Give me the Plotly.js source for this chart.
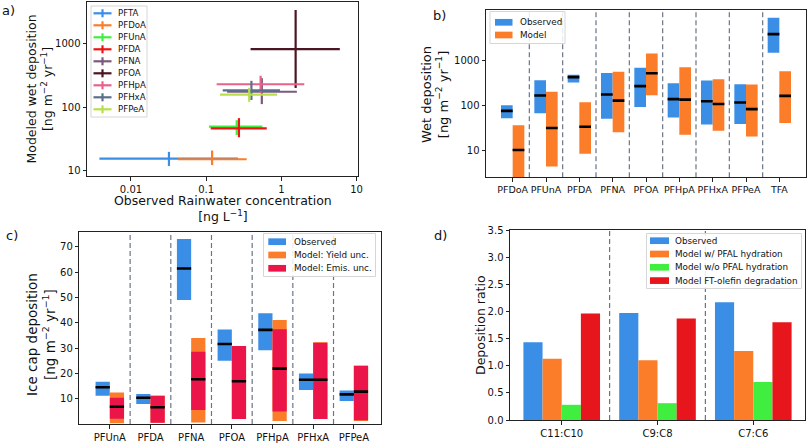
<!DOCTYPE html>
<html><head><meta charset="utf-8">
<script src="https://cdn.plot.ly/plotly-3.0.1.min.js"></script>
<style>html,body{margin:0;padding:0;background:#fff;} #chart{width:808px;height:443px;}</style>
</head><body><div id="chart"></div>
<script>
// ---------- Panel a data ----------
const aSpecies = ['PFTA','PFDoA','PFUnA','PFDA','PFNA','PFOA','PFHpA','PFHxA','PFPeA'];
const aObsMid  = [0.032, 0.12, 0.255, 0.273, 0.55, 1.55, 0.53, 0.40, 0.374];
const aObsLow  = [0.0038, 0.042, 0.109, 0.115, 0.19, 0.39, 0.138, 0.166, 0.153];
const aObsHigh = [0.265, 0.346, 0.56, 0.64, 1.61, 6.0, 2.02, 0.96, 0.88];
const aModMid  = [15.6, 15.3, 50, 47, 177, 830, 232, 186, 159];
const aModLow  = [12, 12.4, 37, 34, 113, 203, 170, 131, 123];
const aModHigh = [20, 21, 63, 68, 290, 3430, 316, 263, 204];
const aColors  = ['#3a8ee6','#fb7d2a','#40ee40','#ee1414','#7d5a7d','#4b1523','#e8628a','#5b6f8e','#b8e04a'];

// ---------- Panel b data ----------
const bSpecies = ['PFDoA','PFUnA','PFDA','PFNA','PFOA','PFHpA','PFHxA','PFPeA','TFA'];
const bObsLow  = [51, 66, 322, 50, 91, 53, 37, 38, 1490];
const bObsHigh = [100, 364, 480, 530, 687, 312, 357, 296, 9000];
const bObsMed  = [75, 166, 425, 174, 268, 137, 123, 115, 3900];
const bModLow  = [2, 4.3, 8.2, 25, 168, 22, 27, 20, 40];
const bModHigh = [36, 200, 117, 560, 1430, 710, 383, 290, 580];
const bModMed  = [10, 31, 33, 127, 520, 134, 107, 82, 162];
const bLegend  = ['Observed','Model'];

// ---------- Panel c data ----------
const cSpecies   = ['PFUnA','PFDA','PFNA','PFOA','PFHpA','PFHxA','PFPeA'];
const cObsLow    = [11.2, 7.9, 49, 25, 29.2, 13.4, 9.1];
const cObsHigh   = [16.7, 11.9, 73.1, 37.4, 43.8, 20, 13.2];
const cObsMed    = [14.5, 10.4, 61.5, 31.6, 37.2, 17.5, 11.7];
const cYieldLow  = [0.3, 0.5, 0.6, 2.0, 1.2, 2.0, 1.2];
const cYieldHigh = [12.5, 11.2, 34, 30.8, 41.1, 32.3, 23.0];
const cEmisLow   = [2.1, 0.5, 5.5, 2.0, 4.9, 2.0, 1.5];
const cEmisHigh  = [10.4, 11.2, 28.6, 30.8, 37.5, 32.1, 23.0];
const cModMed    = [6.8, 6.6, 17.7, 16.9, 21.9, 17.5, 12.8];
const cLegend    = ['Observed','Model: Yield unc.','Model: Emis. unc.'];

// ---------- Panel d data ----------
const dRatios      = ['C11:C10','C9:C8','C7:C6'];
const dObserved    = [1.43, 1.97, 2.17];
const dHydration   = [1.13, 1.10, 1.27];
const dNoHydration = [0.28, 0.31, 0.70];
const dOlefin      = [1.96, 1.87, 1.80];
const dLegend      = ['Observed','Model w/ PFAL hydration','Model w/o PFAL hydration','Model FT-olefin degradation'];

// ---------- styling ----------
const W = 808, H = 443;
const px = v => v / W;
const py = v => 1 - v / H;
const BLUE = '#3a8ee6', ORANGE = '#fb7d2a', GREEN = '#40ee40', RED_D = '#e6161c', RED_C = '#ec1549';
const SEP = '#6a7585';
const FONT = 'DejaVu Sans';

const traces = [];
const shapes = [];
const annotations = [];

// ---------- Panel a traces ----------
aSpecies.forEach((name, i) => {
  traces.push({
    type: 'scatter', mode: 'markers', name: name, showlegend: false,
    x: [aObsMid[i]], y: [aModMid[i]], xaxis: 'x', yaxis: 'y',
    marker: {size: 1, opacity: 0, color: aColors[i]},
    error_x: {type: 'data', symmetric: false, array: [aObsHigh[i] - aObsMid[i]],
              arrayminus: [aObsMid[i] - aObsLow[i]], color: aColors[i], thickness: 2.2, width: 0},
    error_y: {type: 'data', symmetric: false, array: [aModHigh[i] - aModMid[i]],
              arrayminus: [aModMid[i] - aModLow[i]], color: aColors[i], thickness: 2.2, width: 0}
  });
});

// ---------- Panel b traces ----------
const bX = bSpecies.map((_, i) => i);
const BW = 0.35;
traces.push({type: 'bar', showlegend: false, xaxis: 'x2', yaxis: 'y2',
  x: bX.map(v => v - BW / 2), base: bObsLow, y: bObsHigh.map((h, i) => h - bObsLow[i]),
  width: BW, marker: {color: BLUE, line: {width: 0}}});
traces.push({type: 'bar', showlegend: false, xaxis: 'x2', yaxis: 'y2',
  x: bX.map(v => v + BW / 2), base: bModLow, y: bModHigh.map((h, i) => h - bModLow[i]),
  width: BW, marker: {color: ORANGE, line: {width: 0}}});
traces.push({type: 'scatter', mode: 'markers', showlegend: false, xaxis: 'x2', yaxis: 'y2',
  x: bX.map(v => v - BW / 2), y: bObsMed,
  marker: {symbol: 'line-ew', size: 8.4, line: {width: 2.6, color: '#000'}}});
traces.push({type: 'scatter', mode: 'markers', showlegend: false, xaxis: 'x2', yaxis: 'y2',
  x: bX.map(v => v + BW / 2), y: bModMed,
  marker: {symbol: 'line-ew', size: 8.4, line: {width: 2.6, color: '#000'}}});

// ---------- Panel c traces ----------
const cX = cSpecies.map((_, i) => i);
traces.push({type: 'bar', showlegend: false, xaxis: 'x3', yaxis: 'y3',
  x: cX.map(v => v - BW / 2), base: cObsLow, y: cObsHigh.map((h, i) => h - cObsLow[i]),
  width: BW, marker: {color: BLUE, line: {width: 0}}});
traces.push({type: 'bar', showlegend: false, xaxis: 'x3', yaxis: 'y3',
  x: cX.map(v => v + BW / 2), base: cYieldLow, y: cYieldHigh.map((h, i) => h - cYieldLow[i]),
  width: BW, marker: {color: ORANGE, line: {width: 0}}});
traces.push({type: 'bar', showlegend: false, xaxis: 'x3', yaxis: 'y3',
  x: cX.map(v => v + BW / 2), base: cEmisLow, y: cEmisHigh.map((h, i) => h - cEmisLow[i]),
  width: BW, marker: {color: RED_C, line: {width: 0}}});
traces.push({type: 'scatter', mode: 'markers', showlegend: false, xaxis: 'x3', yaxis: 'y3',
  x: cX.map(v => v - BW / 2), y: cObsMed,
  marker: {symbol: 'line-ew', size: 10.2, line: {width: 2.6, color: '#000'}}});
traces.push({type: 'scatter', mode: 'markers', showlegend: false, xaxis: 'x3', yaxis: 'y3',
  x: cX.map(v => v + BW / 2), y: cModMed,
  marker: {symbol: 'line-ew', size: 10.2, line: {width: 2.6, color: '#000'}}});

// ---------- Panel d traces ----------
const dX = dRatios.map((_, i) => i);
const dSeries = [dObserved, dHydration, dNoHydration, dOlefin];
const dColors = [BLUE, ORANGE, GREEN, RED_D];
const DW = 0.2;
dSeries.forEach((vals, k) => {
  traces.push({type: 'bar', showlegend: false, xaxis: 'x4', yaxis: 'y4',
    x: dX.map(v => v + (k - 1.5) * DW), y: vals, width: DW,
    marker: {color: dColors[k], line: {width: 0}}});
});

// ---------- separators ----------
function separators(n, xref, yref) {
  for (let i = 0; i < n - 1; i++) {
    shapes.push({type: 'line', xref: xref, yref: yref + ' domain', x0: i + 0.5, x1: i + 0.5, y0: 0, y1: 1,
      line: {color: SEP, width: 1.2, dash: '5px,3px'}, layer: 'below'});
  }
}
separators(bSpecies.length, 'x2', 'y2');
separators(cSpecies.length, 'x3', 'y3');
separators(dRatios.length, 'x4', 'y4');

// ---------- legends (manual, matplotlib-like) ----------
function legendBox(x0, y0, x1, y1) {
  shapes.push({type: 'rect', xref: 'paper', yref: 'paper', x0: px(x0), x1: px(x1), y0: py(y1), y1: py(y0),
    fillcolor: 'rgba(255,255,255,0.85)', line: {color: '#d6d6d6', width: 1}, layer: 'above'});
}
function patch(x0, x1, yc, h, color) {
  shapes.push({type: 'rect', xref: 'paper', yref: 'paper', x0: px(x0), x1: px(x1), y0: py(yc + h / 2), y1: py(yc - h / 2),
    fillcolor: color, line: {width: 0}, layer: 'above'});
}
function pline(x0, y0, x1, y1, color, w) {
  shapes.push({type: 'line', xref: 'paper', yref: 'paper', x0: px(x0), x1: px(x1), y0: py(y0), y1: py(y1),
    line: {color: color, width: w}, layer: 'above'});
}
function label(x, yc, text, size) {
  annotations.push({xref: 'paper', yref: 'paper', x: px(x), y: py(yc), text: text, xanchor: 'left', yanchor: 'middle',
    showarrow: false, font: {size: size, color: '#111', family: FONT}});
}

// legend a
legendBox(91, 6, 147, 117);
aSpecies.forEach((name, i) => {
  const yc = 13.3 + i * 12.0;
  pline(93.5, yc, 111.5, yc, aColors[i], 2.2);
  pline(102.5, yc - 4, 102.5, yc + 4, aColors[i], 2.2);
  label(116, yc, name, 8.6);
});
// legend b
legendBox(490, 11.5, 565, 43.5);
[BLUE, ORANGE].forEach((c, i) => {
  const yc = 22.3 + i * 12.7;
  patch(495, 512.5, yc, 6.7, c);
  label(517.5, yc, bLegend[i], 8.8);
});
// legend c
legendBox(263.5, 233.5, 375.5, 276.5);
[BLUE, ORANGE, RED_C].forEach((c, i) => {
  const yc = 241.7 + i * 13.3;
  patch(268.3, 286, yc, 6.7, c);
  label(291.5, yc, cLegend[i], 8.8);
});
// legend d
legendBox(646.5, 233.5, 801.5, 288.5);
dColors.forEach((c, i) => {
  const yc = 240.7 + i * 13.3;
  patch(650, 669, yc, 6.7, c);
  label(672.5, yc, dLegend[i], 8.8);
});

// ---------- titles & panel labels ----------
function title(x, y, text, angle, size) {
  annotations.push({xref: 'paper', yref: 'paper', x: px(x), y: py(y), text: text, textangle: angle,
    xanchor: 'center', yanchor: 'middle', showarrow: false, font: {size: size, color: '#111', family: FONT}});
}
const UNIT = '[ng m<sup>\u22122</sup> yr<sup>\u22121</sup>]';
title(38.5, 89, 'Modeled wet deposition<br>' + UNIT, -90, 12.5);
title(222.5, 208, 'Observed Rainwater concentration<br>[ng L<sup>\u22121</sup>]', 0, 12.5);
title(435, 95, 'Wet deposition<br>' + UNIT, -90, 13);
title(41, 335, 'Ice cap deposition<br>' + UNIT, -90, 13.5);
title(480, 325, 'Deposition ratio', -90, 12.5);
title(8, 11, 'a)', 0, 13);
title(439, 15, 'b)', 0, 13);
title(12, 236, 'c)', 0, 13);
title(440, 236, 'd)', 0, 13);

// ---------- axes ----------
const base = {showline: true, mirror: true, linecolor: '#222', linewidth: 1, ticks: 'outside', ticklen: 3.5,
  tickwidth: 1, tickcolor: '#222', showgrid: false, zeroline: false, fixedrange: true, tickangle: 0,
  tickfont: {size: 10, color: '#111', family: FONT}};

const layout = {
  width: W, height: H, margin: {l: 0, r: 0, t: 0, b: 0}, paper_bgcolor: '#fff', plot_bgcolor: '#fff',
  font: {family: FONT, color: '#111'}, showlegend: false, barmode: 'overlay',
  xaxis: Object.assign({}, base, {domain: [px(87), px(358)], type: 'log', range: [-2.585, 1.02], anchor: 'y',
    tickvals: [0.01, 0.1, 1, 10], ticktext: ['0.01', '0.1', '1', '10']}),
  yaxis: Object.assign({}, base, {domain: [py(176), py(2)], type: 'log', range: [0.921, 3.661], anchor: 'x',
    tickvals: [10, 100, 1000], ticktext: ['10', '100', '1000']}),
  xaxis2: Object.assign({}, base, {domain: [px(486), px(806)], range: [-0.8, 8.8], anchor: 'y2',
    tickvals: bX, ticktext: bSpecies, tickfont: {size: 9.5, color: '#111', family: FONT}}),
  yaxis2: Object.assign({}, base, {domain: [py(177.3), py(10)], type: 'log', range: [0.39, 4.13], anchor: 'x2',
    tickvals: [10, 100, 1000], ticktext: ['10', '100', '1000']}),
  xaxis3: Object.assign({}, base, {domain: [px(79.3), px(380.7)], range: [-0.75, 6.66], anchor: 'y3',
    tickvals: cX, ticktext: cSpecies}),
  yaxis3: Object.assign({}, base, {domain: [py(424), py(232)], range: [0, 75.9], anchor: 'x3',
    tickvals: [10, 20, 30, 40, 50, 60, 70]}),
  xaxis4: Object.assign({}, base, {domain: [px(510), px(805)], range: [-0.54, 2.54], anchor: 'y4',
    tickvals: dX, ticktext: dRatios}),
  yaxis4: Object.assign({}, base, {domain: [py(420), py(230)], range: [0, 3.5], anchor: 'x4',
    tickvals: [0, 0.5, 1, 1.5, 2, 2.5, 3, 3.5], tickformat: '.1f'}),
  shapes: shapes,
  annotations: annotations
};

Plotly.newPlot('chart', traces, layout, {displayModeBar: false, staticPlot: true});
</script></body></html>
